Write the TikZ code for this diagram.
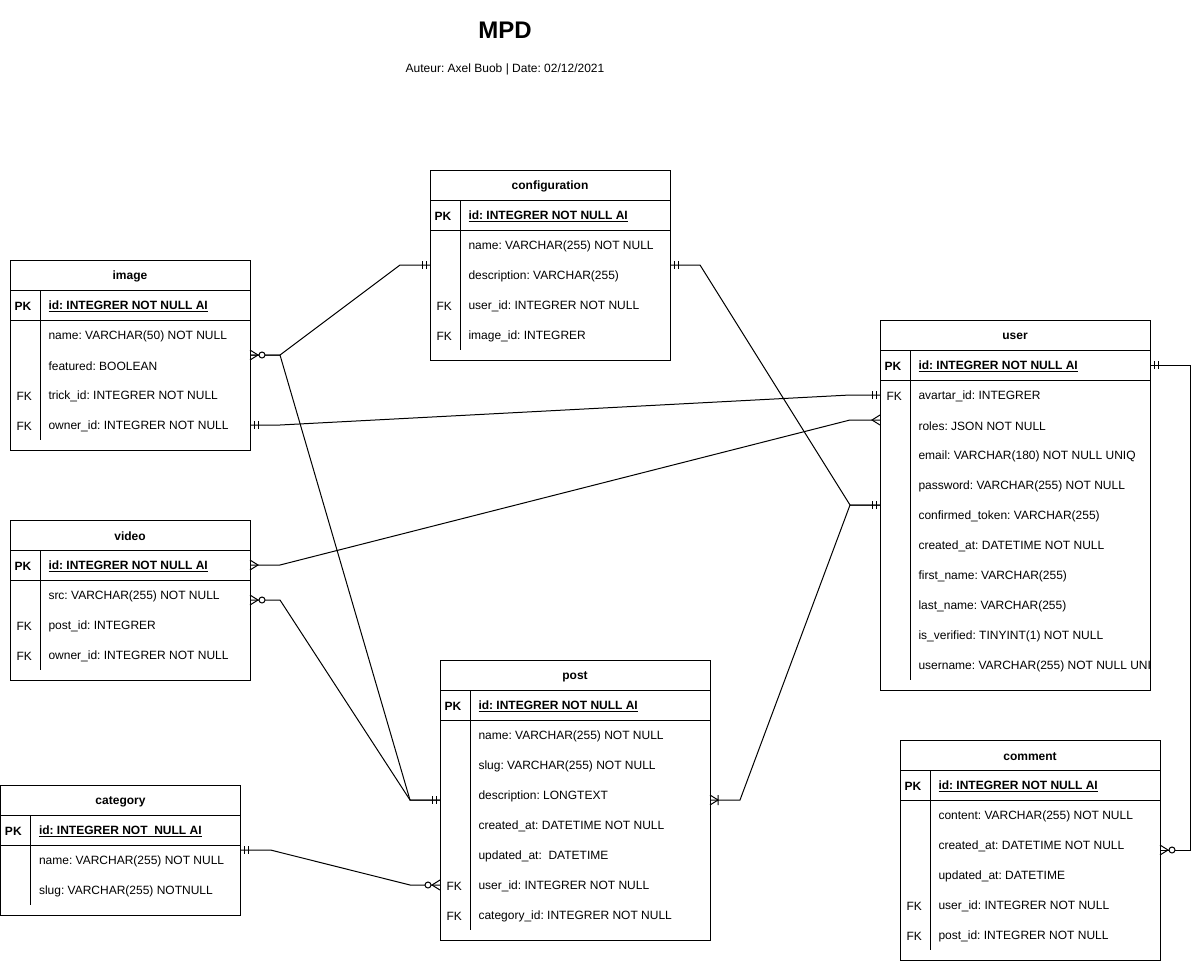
\documentclass[tikz,border=0pt]{standalone}
\usepackage{fontspec}
\setmainfont{Liberation Sans}
\usetikzlibrary{positioning}
\frenchspacing

\tikzset{
  tbox/.style={draw, rectangle, anchor=north west, inner sep=0, outer sep=0},
  thead/.style={font=\fontsize{12}{14}\selectfont\bfseries, inner sep=0},
  fld/.style={anchor=west, inner sep=0},
  fkey/.style={anchor=west, inner sep=0},
  pics/erone/.style={code={\draw (4,-4) -- (4,4) (8,-4) -- (8,4);}},
  pics/ermany/.style={code={\draw (0,-5) -- (8,0) -- (0,5);}},
  pics/erzmany/.style={code={\draw (0,-5) -- (8,0) -- (0,5); \draw[fill=white] (12,0) circle (3);}},
  pics/eromany/.style={code={\draw (0,-5) -- (8,0) -- (0,5) (8,-5) -- (8,5);}}
}

% name, x, y, width, rows, title, pk, fields
\newcommand{\ertable}[8]{%
  \node[tbox, minimum width=#4, minimum height={70+30*#5}] (#1) at (#2,#3) {};
  \draw ([yshift=-30pt]#1.north west) -- ([yshift=-30pt]#1.north east);
  \draw ([yshift=-60pt]#1.north west) -- ([yshift=-60pt]#1.north east);
  \draw ([xshift=30pt,yshift=-30pt]#1.north west) -- ([xshift=30pt,yshift=10pt]#1.south west);
  \node[thead] (#1-title) at ([yshift=-16.5pt]#1.north) {#6};
  \node[fkey, font=\fontsize{12}{14}\selectfont\bfseries] (#1-key) at ([xshift=4pt,yshift=-46.5pt]#1.north west) {PK};
  \node[fld, font=\fontsize{12}{14}\selectfont\bfseries] (#1-pk) at ([xshift=38pt,yshift=-46.5pt]#1.north west) {\underline{#7}};
  \begin{scope}
    \clip (#1.north west) rectangle (#1.south east);
    \foreach \colk/\colf [count=\i] in {#8} {
      \node[fkey] (#1-k\i) at ([xshift=6pt,yshift={-46.5pt-30pt*\i}]#1.north west) {\colk};
      \node[fld] (#1-\i) at ([xshift=38pt,yshift={-46.5pt-30pt*\i}]#1.north west) {\colf};
    }
  \end{scope}
}

\begin{document}
\begin{tikzpicture}[x=1pt, y=-1pt, line width=1pt, font=\fontsize{12}{14}\selectfont]
  \useasboundingbox (0,0) rectangle (1200,961);

  \node[font=\fontsize{24}{28}\selectfont\bfseries] (title) at (505,30) {MPD};
  \node (subtitle) at (505,69) {Auteur: Axel Buob | Date: 02/12/2021};

  \ertable{image}{10}{260}{240}{4}{image}{id: INTEGRER NOT NULL AI}{{}/name: VARCHAR(50) NOT NULL, {}/featured: BOOLEAN, FK/trick\_id: INTEGRER NOT NULL, FK/owner\_id: INTEGRER NOT NULL}
  \ertable{config}{430}{170}{240}{4}{configuration}{id: INTEGRER NOT NULL AI}{{}/name: VARCHAR(255) NOT NULL, {}/description: VARCHAR(255), FK/user\_id: INTEGRER NOT NULL, FK/image\_id: INTEGRER}
  \ertable{user}{880}{320}{270}{10}{user}{id: INTEGRER NOT NULL AI}{FK/avartar\_id: INTEGRER, {}/roles: JSON NOT NULL, {}/email: VARCHAR(180) NOT NULL UNIQ, {}/password: VARCHAR(255) NOT NULL, {}/confirmed\_token: VARCHAR(255), {}/created\_at: DATETIME NOT NULL, {}/first\_name: VARCHAR(255), {}/last\_name: VARCHAR(255), {}/is\_verified: TINYINT(1) NOT NULL, {}/username: VARCHAR(255) NOT NULL UNIQ}
  \ertable{video}{10}{520}{240}{3}{video}{id: INTEGRER NOT NULL AI}{{}/src: VARCHAR(255) NOT NULL, FK/post\_id: INTEGRER, FK/owner\_id: INTEGRER NOT NULL}
  \ertable{post}{440}{660}{270}{7}{post}{id: INTEGRER NOT NULL AI}{{}/name: VARCHAR(255) NOT NULL, {}/slug: VARCHAR(255) NOT NULL, {}/description: LONGTEXT, {}/created\_at: DATETIME NOT NULL, {}/updated\_at:\ \ DATETIME, FK/user\_id: INTEGRER NOT NULL, FK/category\_id: INTEGRER NOT NULL}
  \ertable{category}{0.5}{785}{240}{2}{category}{id: INTEGRER NOT\ \ NULL AI}{{}/name: VARCHAR(255) NOT NULL, {}/slug: VARCHAR(255) NOTNULL}
  \ertable{comment}{900}{740}{260}{5}{comment}{id: INTEGRER NOT NULL AI}{{}/content: VARCHAR(255) NOT NULL, {}/created\_at: DATETIME NOT NULL, {}/updated\_at: DATETIME, FK/user\_id: INTEGRER NOT NULL, FK/post\_id: INTEGRER NOT NULL}

  % connectors
  \coordinate (img-own) at ([yshift=1.5pt]image.east |- image-4);
  \coordinate (usr-av) at ([yshift=1.5pt]user.west |- user-1);
  \coordinate (usr-ro) at ([yshift=-100pt]user.north west);
  \coordinate (vid-id) at ([yshift=1.5pt]video.east |- video-pk);
  \coordinate (pst-us) at ([yshift=1.5pt]post.west |- post-6);
  \coordinate (usr-id) at ([yshift=1.5pt]user.east |- user-pk);

  \draw (image.east) -- ++(30,0) -- ([xshift=-30pt]config.west) -- (config.west);
  \draw (image.east) -- ++(30,0) -- ([xshift=-30pt]post.west) -- (post.west);
  \draw (video.east) -- ++(30,0) -- ([xshift=-30pt]post.west) -- (post.west);
  \draw (img-own) -- ++(30,0) -- ([xshift=-30pt]usr-av) -- (usr-av);
  \draw (vid-id) -- ++(30,0) -- ([xshift=-30pt]usr-ro) -- (usr-ro);
  \draw (config.east) -- ++(30,0) -- ([xshift=-30pt]user.west) -- (user.west);
  \draw (post.east) -- ++(30,0) -- ([xshift=-30pt]user.west) -- (user.west);
  \draw (category.east) -- ++(30,0) -- ([xshift=-30pt]pst-us) -- (pst-us);
  \draw (usr-id) -- ++(40,0) |- (comment.east);

  % ends
  \pic at (image.east) {erzmany};
  \pic[xscale=-1] at (config.west) {erone};
  \pic[xscale=-1] at (post.west) {erone};
  \pic at (video.east) {erzmany};
  \pic at (img-own) {erone};
  \pic[xscale=-1] at (usr-av) {erone};
  \pic at (vid-id) {ermany};
  \pic[xscale=-1] at (usr-ro) {ermany};
  \pic at (config.east) {erone};
  \pic at (post.east) {eromany};
  \pic[xscale=-1] at (user.west) {erone};
  \pic at (category.east) {erone};
  \pic[xscale=-1] at (pst-us) {erzmany};
  \pic at (usr-id) {erone};
  \pic at (comment.east) {erzmany};
\end{tikzpicture}
\end{document}
